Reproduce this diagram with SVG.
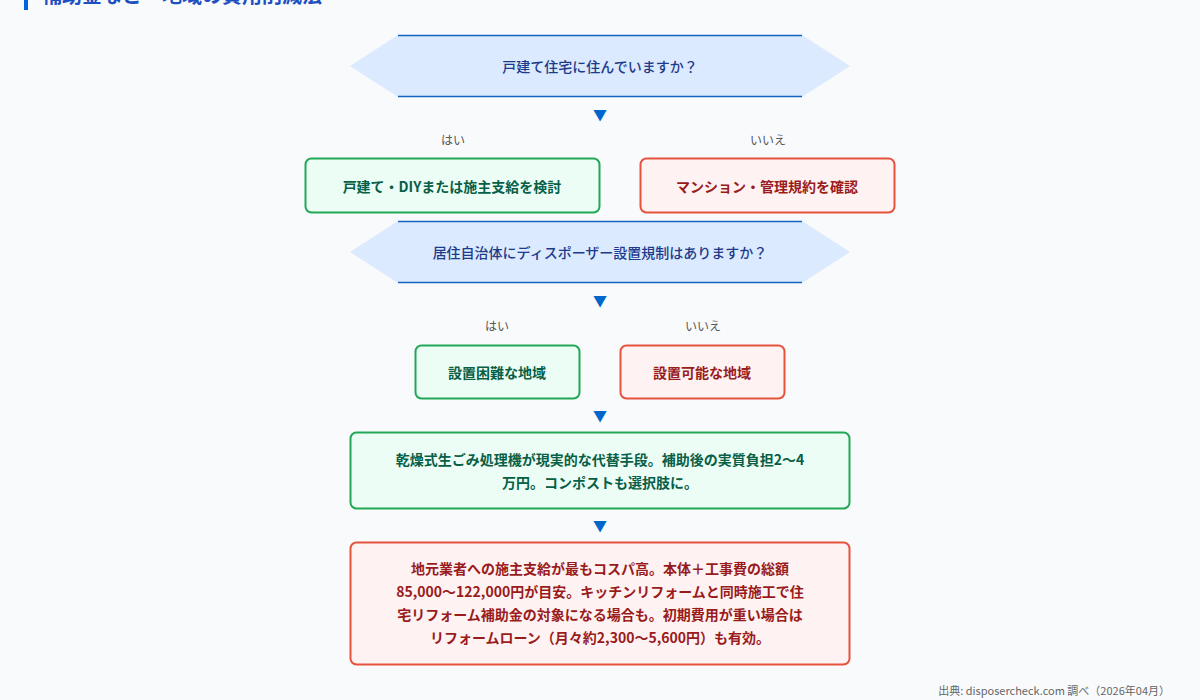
<svg xmlns="http://www.w3.org/2000/svg" width="1200" height="700" viewBox="0 0 1200 700">
<style>
text{font-family:"Noto Sans CJK JP","Noto Sans",sans-serif;text-anchor:middle;dominant-baseline:central}
.q{fill:#dbeafe;stroke:none}
.qe{stroke:#1565c0;stroke-width:1.5}
.qt{fill:#1e3a8a;font-size:14px;font-weight:500}
.g{fill:#ecfdf5;stroke:#22a855;stroke-width:2}
.gt{fill:#065f46;font-size:14px;font-weight:700}
.r{fill:#fef2f2;stroke:#e5533d;stroke-width:2}
.rt{fill:#991b1b;font-size:14px;font-weight:700}
.lb{fill:#555;font-size:12px}
.ar{fill:#0066cc;font-size:14px}
</style>
<rect width="1200" height="700" fill="#f8fafc"/>
<rect x="24" y="0" width="4" height="10" fill="#0066dd"/>
<text x="42" y="-6" style="text-anchor:start;font-size:20px;font-weight:700;fill:#1e4fc0">補助金など・地域の費用削減法</text>
<g id="q1"><polygon class="q" points="350,66 398,35 802,35 850,66 802,97 398,97"/><path class="qe" d="M398,35.5H802M398,96.5H802"/><text class="qt" x="600" y="66">戸建て住宅に住んでいますか？</text></g>
<g id="connectors">
<text class="ar" x="600" y="114">▼</text>
<text class="lb" x="453" y="139">はい</text>
<text class="lb" x="768" y="139">いいえ</text>
<text class="ar" x="600" y="300">▼</text>
<text class="lb" x="497" y="325">はい</text>
<text class="lb" x="703" y="325">いいえ</text>
<text class="ar" x="600" y="415">▼</text>
<text class="ar" x="600" y="525">▼</text>
</g>
<g id="y1"><rect class="g" x="305.5" y="158.5" width="294" height="54" rx="6"/><text class="gt" x="452" y="186">戸建て・DIYまたは施主支給を検討</text></g>
<g id="n1"><rect class="r" x="640.5" y="158.5" width="254" height="54" rx="6"/><text class="rt" x="767" y="186">マンション・管理規約を確認</text></g>
<g id="q2"><polygon class="q" points="350,252 398,221 802,221 850,252 802,283 398,283"/><path class="qe" d="M398,221.5H802M398,282.5H802"/><text class="qt" x="600" y="252">居住自治体にディスポーザー設置規制はありますか？</text></g>
<g id="y2"><rect class="g" x="415.5" y="345.5" width="164" height="53" rx="6"/><text class="gt" x="497" y="372">設置困難な地域</text></g>
<g id="n2"><rect class="r" x="620.5" y="345.5" width="164" height="53" rx="6"/><text class="rt" x="702" y="372">設置可能な地域</text></g>
<g id="a1"><rect class="g" x="350.5" y="432.5" width="499" height="76" rx="6"/><text class="gt" x="600" y="459">乾燥式生ごみ処理機が現実的な代替手段。補助後の実質負担2〜4</text><text class="gt" x="600" y="482">万円。コンポストも選択肢に。</text></g>
<g id="a2"><rect class="r" x="350.5" y="542.5" width="499" height="122" rx="6"/>
<text class="rt" x="600" y="568">地元業者への施主支給が最もコスパ高。本体＋工事費の総額</text>
<text class="rt" x="600" y="591">85,000〜122,000円が目安。キッチンリフォームと同時施工で住</text>
<text class="rt" x="600" y="614">宅リフォーム補助金の対象になる場合も。初期費用が重い場合は</text>
<text class="rt" x="600" y="637">リフォームローン（月々約2,300〜5,600円）も有効。</text></g>
<text x="1170" y="690" style="text-anchor:end;font-size:11px;fill:#666">出典: disposercheck.com 調べ（2026年04月）</text>
</svg>
